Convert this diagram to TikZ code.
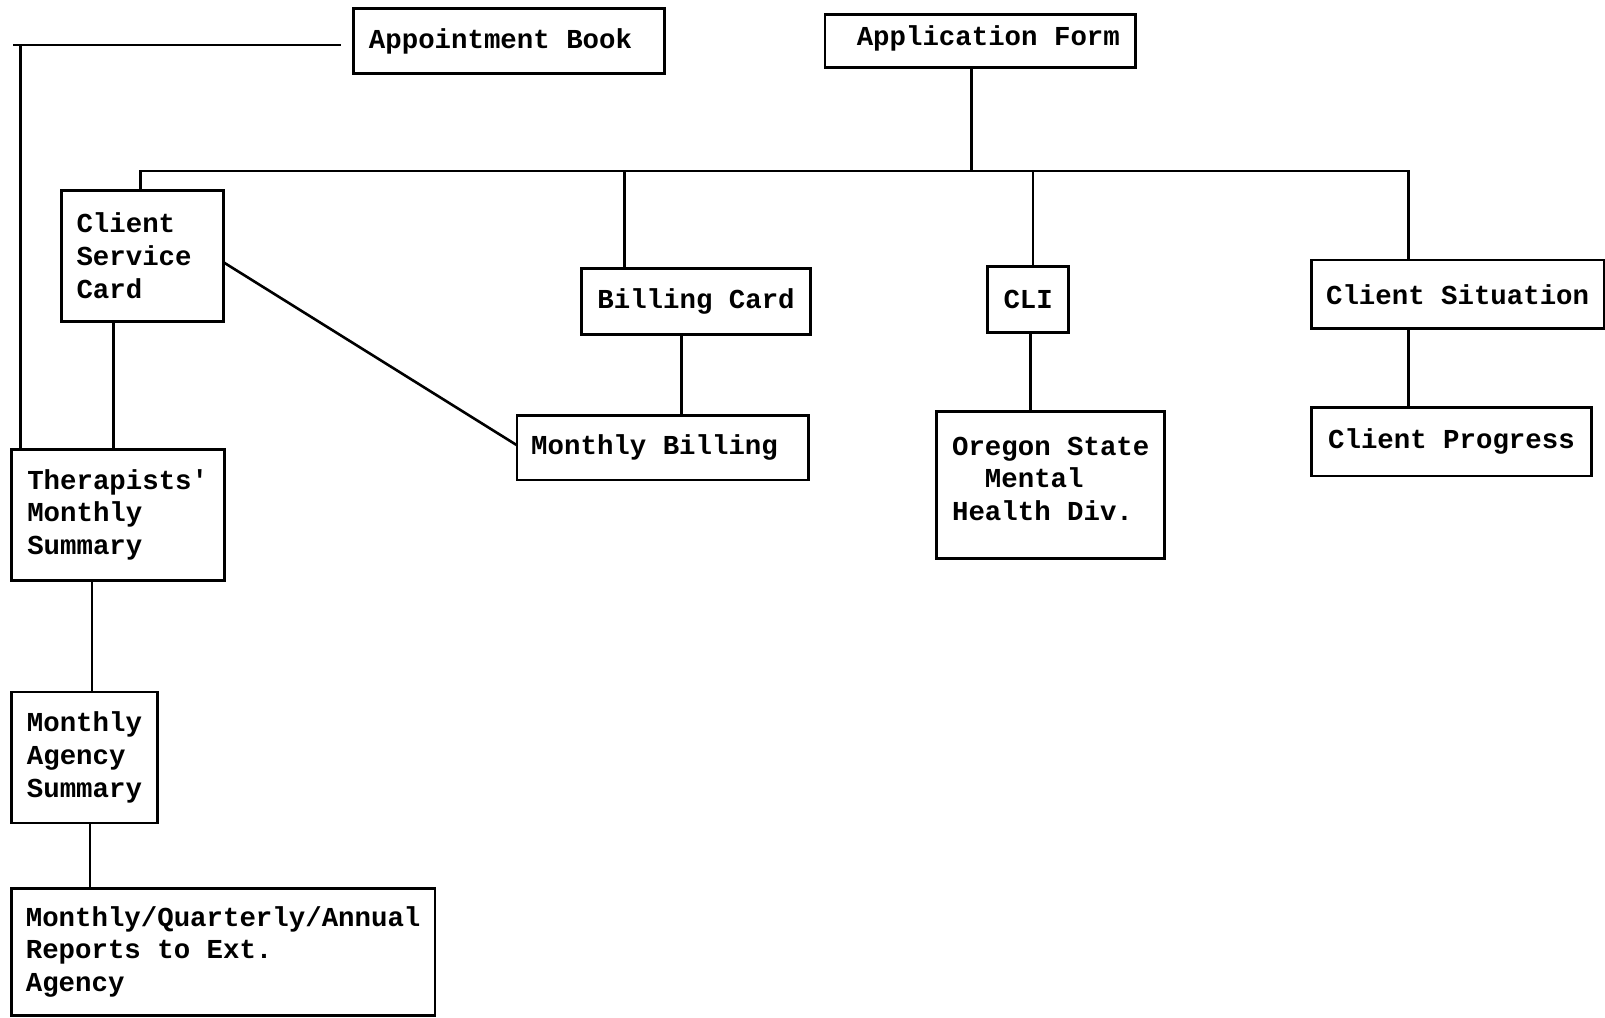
\documentclass[tikz,border=0pt]{standalone}
\usepackage{fontspec}
\setmonofont{Liberation Mono}
\usetikzlibrary{calc}
\begin{document}
\begin{tikzpicture}[x=0.5118pt,y=-0.5118pt,
  doc/.style={draw, line width=1.4pt, anchor=north west, outer sep=0pt,
    inner xsep=4pt, inner ysep=0pt, align=left,
    font=\ttfamily\bfseries\fontsize{13.7}{16.4}\selectfont},
  link/.style={line width=1.3pt}]
\useasboundingbox (0,0) rectangle (1568,994);

% boxes
\node[doc, minimum width=155.59pt, minimum height=32.76pt] (appt) at (345,8) {Appointment Book\phantom{x}};
\node[doc, minimum width=155.08pt, minimum height=26.61pt] (appl) at (806,14) {\phantom{x}Application Form\\[-11.2pt]\mbox{}};
\node[doc, minimum width=80.86pt, minimum height=65.51pt] (csc) at (60,186) {Client\\Service\phantom{x}\\Card};
\node[doc, minimum width=114.64pt, minimum height=33.27pt] (bill) at (568,262) {Billing Card};
\node[doc, minimum width=40.43pt, minimum height=33.27pt] (cli) at (965,260) {CLI};
\node[doc, minimum width=146.37pt, minimum height=34.29pt] (csit) at (1281,254) {Client Situation};
\node[doc, minimum width=145.86pt, minimum height=32.24pt] (mbill) at (505,406) {Monthly Billing\phantom{x}};
\node[doc, minimum width=114.13pt, minimum height=73.70pt] (oreg) at (915,402) {Oregon State\\\phantom{xx}Mental\\Health Div.\\[-10pt]\mbox{}};
\node[doc, minimum width=140.23pt, minimum height=34.29pt] (cprog) at (1281,398) {Client Progress};
\node[doc, minimum width=106.45pt, minimum height=65.51pt] (ther) at (11,439) {Therapists'\\Monthly\\Summary};
\node[doc, minimum width=73.19pt, minimum height=65.51pt] (mag) at (11,676) {Monthly\\Agency\\Summary};
\node[doc, minimum width=211.89pt, minimum height=63.46pt] (rep) at (11,868) {Monthly/Quarterly/Annual\\Reports to Ext.\\Agency};

% appointment book line
\coordinate (abfree) at (333,44);
\coordinate (abtick) at (13,44);
\coordinate (corner) at (20,44);
\draw[link] (abfree) -- (abtick);
\draw[link] (corner) -- (corner |- ther.north);

% bus from application form
\coordinate (busL) at (137,167);
\coordinate (busR) at (1376,167);
\coordinate (tapA) at ($(appl.south west)!0.472!(appl.south east)$);
\draw[link] (tapA) -- (tapA |- busL);
\draw[link] (busL |- csc.north) -- (busL) -- (busR) -- (busR |- csit.north);
\coordinate (tapB) at (610,167);
\draw[link] (tapB) -- (tapB |- bill.north);
\coordinate (tapC) at (1009,167);
\draw[link] (tapC) -- (tapC |- cli.north);

% vertical links
\coordinate (c1) at ($(csc.south west)!0.323!(csc.south east)$);
\draw[link] (c1) -- (c1 |- ther.north);
\coordinate (c2) at ($(ther.south west)!0.38!(ther.south east)$);
\draw[link] (c2) -- (c2 |- mag.north);
\coordinate (c3) at ($(mag.south west)!0.538!(mag.south east)$);
\draw[link] (c3) -- (c3 |- rep.north);
\coordinate (c4) at ($(bill.south west)!0.4375!(bill.south east)$);
\draw[link] (c4) -- (c4 |- mbill.north);
\coordinate (c5) at ($(cli.south west)!0.53!(cli.south east)$);
\draw[link] (c5) -- (c5 |- oreg.north);
\coordinate (c6) at ($(csit.south west)!0.332!(csit.south east)$);
\draw[link] (c6) -- (c6 |- cprog.north);

% diagonal
\draw[link] ($(csc.north east)!0.547!(csc.south east)$) -- ($(mbill.north west)!0.46!(mbill.south west)$);
\end{tikzpicture}
\end{document}
